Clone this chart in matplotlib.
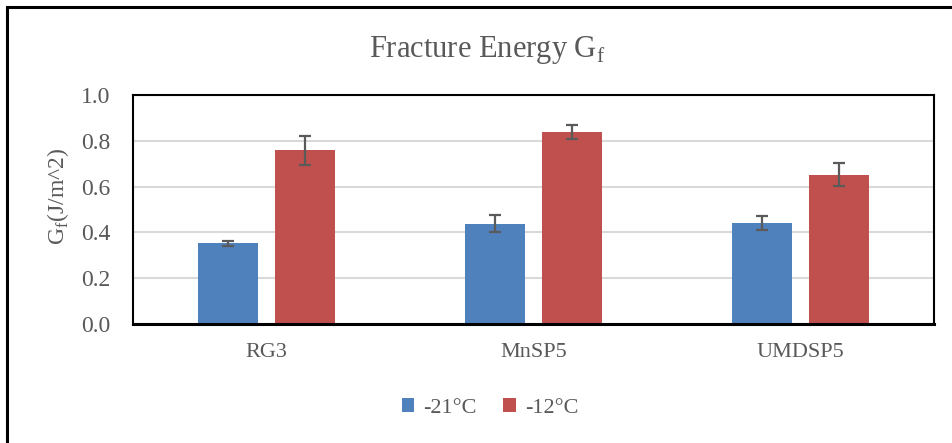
import numpy as np
import matplotlib.pyplot as plt
from matplotlib.patches import Rectangle

# data
categories = ['RG3', 'MnSP5', 'UMDSP5']
series_names = ['-21\u00b0C', '-12\u00b0C']
gf_minus21 = [0.352, 0.437, 0.440]
gf_minus21_err = [0.012, 0.037, 0.030]
gf_minus12 = [0.758, 0.838, 0.651]
gf_minus12_err = [0.062, 0.031, 0.050]
yticks = [0.0, 0.2, 0.4, 0.6, 0.8, 1.0]

text_color = '#595959'
plt.rcParams['font.family'] = ['Liberation Serif', 'DejaVu Serif']
plt.rcParams['mathtext.fontset'] = 'custom'
plt.rcParams['mathtext.rm'] = 'Liberation Serif'

fig = plt.figure(figsize=(9.52, 4.43), dpi=100)
W, H = 952, 443
ax = fig.add_axes([133 / W, 1 - 324 / H, (934 - 133) / W, (324 - 95) / H])

x = np.arange(len(categories))
width = 0.225
offset = 0.143
err_style = dict(ecolor='#5a5a5a', elinewidth=1.6, capsize=4.5, capthick=1.6)

ax.bar(x - offset, gf_minus21, width, color='#4f81bd', label=series_names[0], zorder=2,
       yerr=gf_minus21_err, error_kw=err_style)
ax.bar(x + offset, gf_minus12, width, color='#c0504d', label=series_names[1], zorder=2,
       yerr=gf_minus12_err, error_kw=err_style)

ax.set_xlim(-0.5, len(categories) - 0.5)
ax.set_ylim(0, 1.0)
ax.set_yticks(yticks)
ax.set_yticklabels([f'{v:.1f}' for v in yticks])
ax.set_xticks(x)
ax.set_xticklabels(categories)
ax.tick_params(axis='x', length=0, labelsize=16, colors=text_color, pad=14)
ax.tick_params(axis='y', length=0, labelsize=17, colors=text_color, pad=16)
ax.grid(axis='y', color='#d9d9d9', linewidth=1.5, zorder=0)
ax.set_axisbelow(True)
for s in ax.spines.values():
    s.set_color('black')
    s.set_linewidth(1.5)
ax.spines['bottom'].set_linewidth(2.2)

ax.set_ylabel('G$_\\mathrm{f}$(J/m^2)', fontsize=17, color=text_color)
ax.yaxis.set_label_coords((71 - 133) / 801, (324 - 196) / 229)
fig.text(487 / W, 1 - 57 / H, 'Fracture Energy G$_\\mathrm{f}$', ha='center', va='baseline',
         fontsize=22, color=text_color)

leg = fig.legend(loc='center', bbox_to_anchor=(490 / W, 1 - 408 / H), ncol=2, frameon=False,
                 fontsize=16, handlelength=0.57, handleheight=0.57, handletextpad=0.4,
                 columnspacing=1.2)
for t in leg.get_texts():
    t.set_color(text_color)

# outer chart border
fig.add_artist(Rectangle((7 / W, -0.05), 1.2, 1 - 7 / H + 0.05, transform=fig.transFigure,
                         fill=False, edgecolor='black', linewidth=2.2))

fig.savefig('out.png', dpi=100)
